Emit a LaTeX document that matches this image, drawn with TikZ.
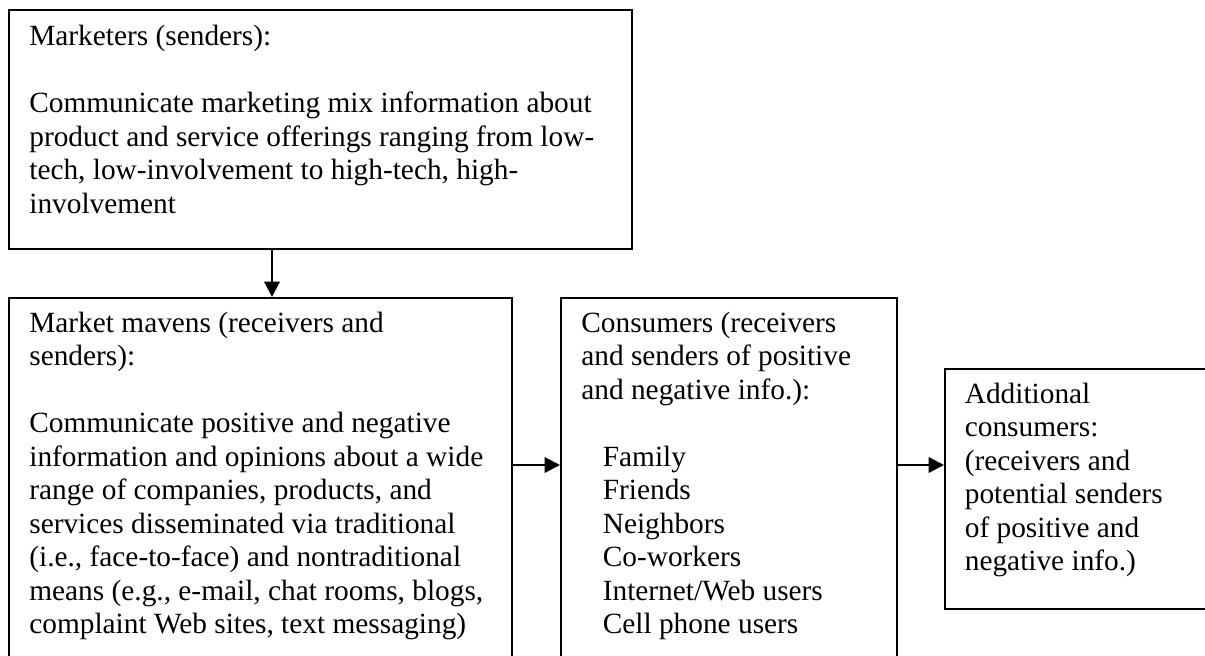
\documentclass[tikz,border=0pt]{standalone}
\usepackage{fontspec}
\setmainfont{Liberation Serif}
\usetikzlibrary{arrows.meta}

\begin{document}
\begin{tikzpicture}[
    x=0.02cm, y=-0.02cm,
    panel/.style={draw, line width=0.045cm, anchor=north west, inner sep=0pt},
    blurb/.style={anchor=north west, inner sep=0pt, align=left,
      font=\fontsize{16.7}{19.06}\selectfont},
    flow/.style={-{Triangle[length=0.31cm,width=0.31cm]}, line width=0.045cm}
  ]
  \useasboundingbox (0,0) rectangle (1205,656);
  \clip (0,0) rectangle (1205,656);

  % boxes
  \node[panel, minimum width=12.46cm, minimum height=4.78cm] (mk) at (8,9) {};
  \node[panel, minimum width=10.06cm, minimum height=7.46cm] (mv) at (8,297) {};
  \node[panel, minimum width=6.72cm, minimum height=7.46cm] (cs) at (560,297) {};
  \node[panel, minimum width=5.52cm, minimum height=4.8cm] (ad) at (944,368) {};

  % texts
  \node[blurb] (mktxt) at (29,22) {\strut Marketers (senders):\\ \strut\\
    Communicate marketing mix information about\\
    product and service offerings ranging from low-\\
    tech, low-involvement to high-tech, high-\\
    involvement};
  \node[blurb] (mvtxt) at (29,308.5) {\strut Market mavens (receivers and\\
    senders):\\ \strut\\
    Communicate positive and negative\\
    information and opinions about a wide\\
    range of companies, products, and\\
    services disseminated via traditional\\
    (i.e., face-to-face) and nontraditional\\
    means (e.g., e-mail, chat rooms, blogs,\\
    complaint Web sites, text messaging)};
  \node[blurb] (cstxt) at (581,308.5) {\strut Consumers (receivers\\
    and senders of positive\\
    and negative info.):\\ \strut\\
    \hspace*{0.43cm}Family\\
    \hspace*{0.43cm}Friends\\
    \hspace*{0.43cm}Neighbors\\
    \hspace*{0.43cm}Co-workers\\
    \hspace*{0.43cm}Internet/Web users\\
    \hspace*{0.43cm}Cell phone users};
  \node[blurb] (adtxt) at (964.5,379.5) {\strut Additional\\
    consumers:\\
    (receivers and\\
    potential senders\\
    of positive and\\
    negative info.)};

  % arrows
  \coordinate (drop) at (272,0);
  \coordinate (row) at (0,465);
  \draw[flow] (drop |- mk.south) -- (drop |- mv.north);
  \draw[flow] (row -| mv.east) -- (row -| cs.west);
  \draw[flow] (row -| cs.east) -- (row -| ad.west);
\end{tikzpicture}
\end{document}
